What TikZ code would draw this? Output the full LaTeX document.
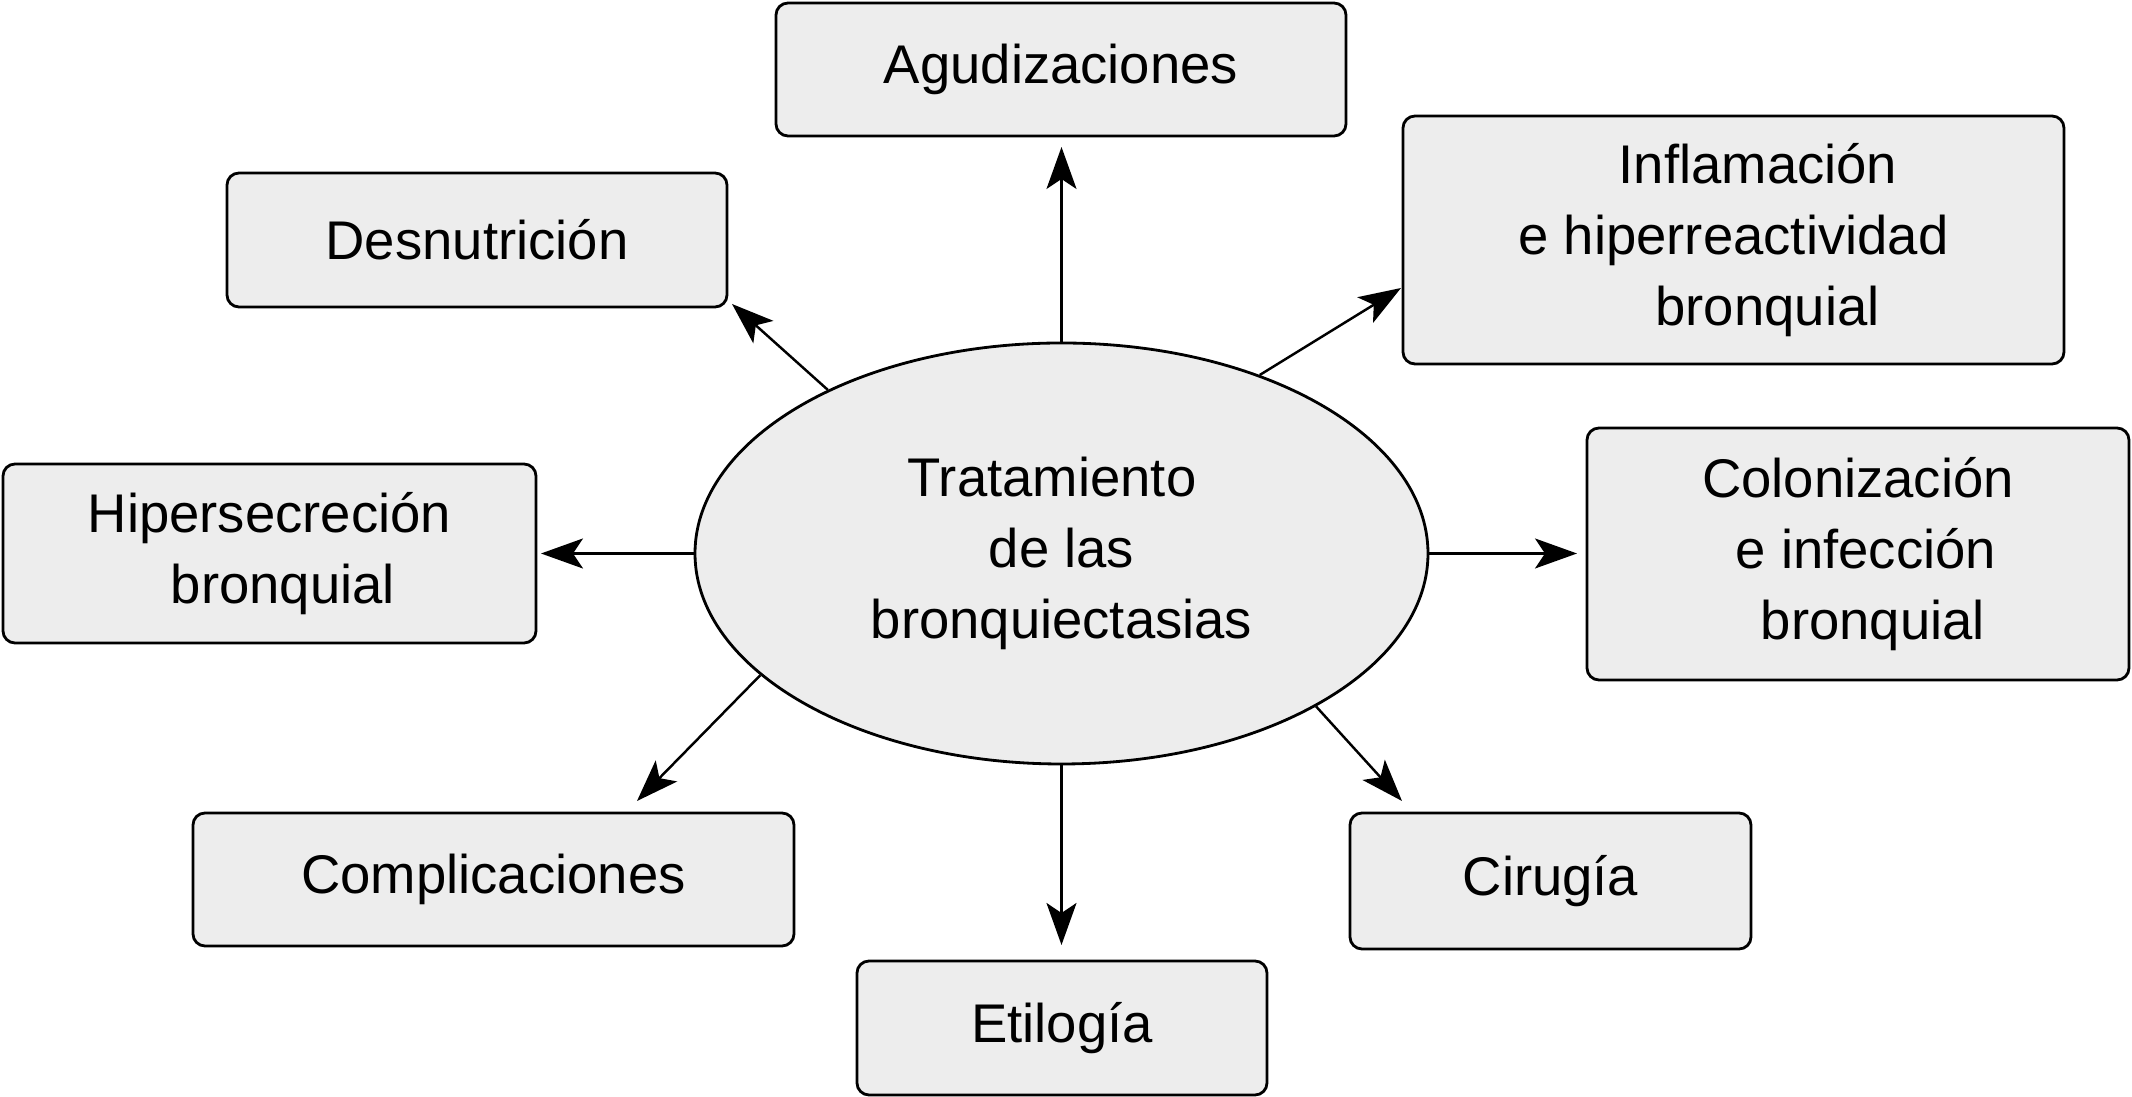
\documentclass[tikz,border=0pt]{standalone}
\usepackage{fontspec}
\setmainfont{Liberation Sans}
\usetikzlibrary{arrows.meta,shapes.geometric}
\definecolor{boxgray}{RGB}{237,237,237}

\begin{document}
\begin{tikzpicture}[
    tema/.style={rectangle, draw, fill=boxgray, line width=0.8pt, rounded corners=0.12cm, align=center, font=\fontsize{15.5}{20.2}\selectfont},
    centro/.style={ellipse, draw, fill=boxgray, line width=0.8pt, inner sep=0pt, minimum width=7.33cm, minimum height=4.21cm, align=center, font=\fontsize{15.5}{20.2}\selectfont},
    flecha/.style={line width=0.7pt, -{Stealth[length=4.2mm, width=3mm, inset=1mm]}},
]
\useasboundingbox (0,0) rectangle (21.32,10.97);
\node[centro] (trat) at (10.615, 5.435) {Tratamiento\hspace*{0.19cm}\\de las\hspace*{0.11cm}\\bronquiectasias};
\node[tema, minimum width=5.70cm, minimum height=1.33cm] (agud) at (10.61, 10.275) {Agudizaciones};
\node[tema, minimum width=5.00cm, minimum height=1.34cm] (desn) at (4.77, 8.57) {Desnutrición};
\node[tema, minimum width=6.61cm, minimum height=2.48cm] (infl) at (17.335, 8.57) {\hspace*{0.49cm}Inflamación\\e hiperreactividad\\\hspace*{0.68cm}bronquial};
\node[tema, minimum width=5.33cm, minimum height=1.79cm] (hiper) at (2.695, 5.435) {Hipersecreción\\\hspace*{0.27cm}bronquial};
\node[tema, minimum width=5.42cm, minimum height=2.52cm] (colon) at (18.58, 5.43) {Colonización\\\hspace*{0.16cm}e infección\\\hspace*{0.30cm}bronquial};
\node[tema, minimum width=6.01cm, minimum height=1.33cm] (compl) at (4.935, 2.175) {Complicaciones};
\node[tema, minimum width=4.01cm, minimum height=1.36cm] (ciru) at (15.505, 2.16) {Cirugía};
\node[tema, minimum width=4.10cm, minimum height=1.34cm] (etil) at (10.62, 0.69) {Etilogía};
% puntas de flecha
\coordinate (p-agud) at (10.615, 9.50);
\coordinate (p-desn) at (7.32, 7.93);
\coordinate (p-infl) at (14.01, 8.09);
\coordinate (p-hiper) at (5.41, 5.435);
\coordinate (p-colon) at (15.77, 5.435);
\coordinate (p-compl) at (6.37, 2.96);
\coordinate (p-ciru) at (14.02, 2.96);
\coordinate (p-etil) at (10.615, 1.52);
\draw[flecha] (trat.north) -- (p-agud);
\draw[flecha] (trat.145.9) -- (p-desn);
\draw[flecha] (trat.42.4) -- (p-infl);
\draw[flecha] (trat.west) -- (p-hiper);
\draw[flecha] (trat.east) -- (p-colon);
\draw[flecha] (trat.202.4) -- (p-compl);
\draw[flecha] (trat.329.3) -- (p-ciru);
\draw[flecha] (trat.south) -- (p-etil);
\end{tikzpicture}
\end{document}
